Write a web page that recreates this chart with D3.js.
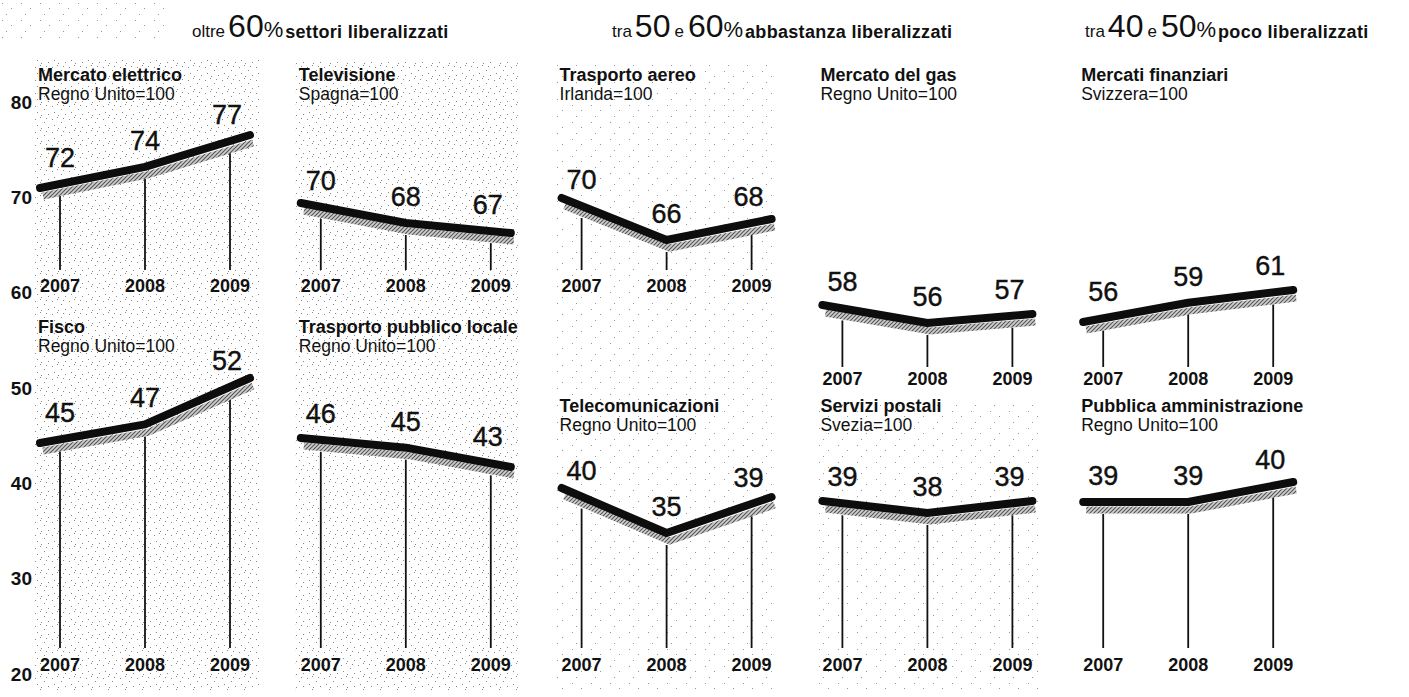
<!DOCTYPE html>
<html>
<head>
<meta charset="utf-8">
<title>Liberalizzazioni</title>
<style>
body { margin: 0; background: #fff; }
text { font-family: "Liberation Sans", Arial, Helvetica, sans-serif; fill: #111; }
.title { font-weight: bold; font-size: 18px; }
.sub { font-size: 17.5px; }
.val { font-size: 27px; stroke: #111; stroke-width: 0.4px; }
.year { font-size: 18px; font-weight: bold; }
.axis text { font-size: 19px; font-weight: bold; font-family: "Liberation Sans", Arial, sans-serif; fill: #111; }
.axis path { display: none; }
</style>
</head>
<body>
<script src="https://d3js.org/d3.v7.min.js"></script>
<script>

// data
var years = [2007, 2008, 2009];
var axisTicks = [20, 30, 40, 50, 60, 70, 80];

var titles = ["Mercato elettrico", "Televisione", "Trasporto aereo", "Mercato del gas", "Mercati finanziari",
              "Fisco", "Trasporto pubblico locale", "Telecomunicazioni", "Servizi postali", "Pubblica amministrazione"];
var bases = ["Regno Unito=100", "Spagna=100", "Irlanda=100", "Regno Unito=100", "Svizzera=100",
             "Regno Unito=100", "Regno Unito=100", "Regno Unito=100", "Svezia=100", "Regno Unito=100"];
var values = [
  [72, 74, 77],
  [70, 68, 67],
  [70, 66, 68],
  [58, 56, 57],
  [56, 59, 61],
  [45, 47, 52],
  [46, 45, 43],
  [40, 35, 39],
  [39, 38, 39],
  [39, 39, 40]
];

var headLead = ["oltre", "tra", "tra"];
var headLow = ["", "50", "40"];
var headHigh = ["60", "60", "50"];
var headTail = ["settori liberalizzati", "abbastanza liberalizzati", "poco liberalizzati"];

// layout
var width = 1409, height = 697;
var panelCol = [0, 1, 2, 3, 4, 0, 1, 2, 3, 4];
var panelRow = ["top", "top", "top", "mid", "mid", "low", "low", "bot", "bot", "bot"];
var rows = {
  top: {title: 81, dropEnd: 270, year: 292},
  mid: {title: 81, dropEnd: 367, year: 385},
  low: {title: 333, dropEnd: 648, year: 671},
  bot: {title: 412, dropEnd: 648, year: 671}
};
// pixel band used by each panel: [y of lowest value, y of highest value]
var bands = [[188, 135], [233, 203], [240, 198], [323, 305], [322, 290],
             [443, 378], [467, 438], [533, 488], [513, 501], [502, 482]];
var headX = [192, 612, 1085];

var svg = d3.select("body").append("svg")
    .attr("width", width)
    .attr("height", height);

var defs = svg.append("defs");

// scanned speckle texture
var speck = defs.append("pattern").attr("id", "speck")
    .attr("patternUnits", "userSpaceOnUse").attr("width", 17).attr("height", 13);
[[1, 2], [6, 0], [10, 5], [3, 8], [14, 10], [12, 1], [7, 11]].forEach(function(p) {
  speck.append("rect").attr("x", p[0]).attr("y", p[1]).attr("width", 1).attr("height", 1).attr("fill", "#888");
});
var speck2 = defs.append("pattern").attr("id", "speck2")
    .attr("patternUnits", "userSpaceOnUse").attr("width", 19).attr("height", 17);
[[2, 3], [11, 8], [6, 14]].forEach(function(p) {
  speck2.append("rect").attr("x", p[0]).attr("y", p[1]).attr("width", 1).attr("height", 1).attr("fill", "#999");
});

// hatched shadow
var hatch = defs.append("pattern").attr("id", "hatch")
    .attr("patternUnits", "userSpaceOnUse").attr("width", 4).attr("height", 4);
hatch.append("rect").attr("width", 4).attr("height", 4).attr("fill", "#cfcfcf");
hatch.append("path").attr("d", "M0,4 L4,0 M-1,1 L1,-1 M3,5 L5,3")
    .attr("stroke", "#555").attr("stroke-width", 1.1);

var colX = function(c) { return 60 + c * 260.8; };

svg.append("rect").attr("x", 0).attr("y", 0).attr("width", 170).attr("height", 42).attr("fill", "url(#speck2)");
svg.append("rect").attr("x", colX(0) - 25).attr("y", 60).attr("width", 225).attr("height", 630).attr("fill", "url(#speck)");
svg.append("rect").attr("x", colX(1) - 25).attr("y", 62).attr("width", 222).attr("height", 628).attr("fill", "url(#speck)");
svg.append("rect").attr("x", colX(2) - 25).attr("y", 62).attr("width", 222).attr("height", 628).attr("fill", "url(#speck2)");
svg.append("rect").attr("x", colX(3) - 25).attr("y", 400).attr("width", 222).attr("height", 290).attr("fill", "url(#speck2)");

// headers
headX.forEach(function(x, i) {
  var t = svg.append("text").attr("x", x).attr("y", 37);
  t.append("tspan").style("font-size", "17px").text(headLead[i]);
  if (headLow[i]) {
    t.append("tspan").attr("dx", 3).style("font-size", "32px").text(headLow[i]);
    t.append("tspan").attr("dx", 4).style("font-size", "17px").text("e");
    t.append("tspan").attr("dx", 4).style("font-size", "32px").text(headHigh[i]);
  } else {
    t.append("tspan").attr("dx", 3).style("font-size", "32px").text(headHigh[i]);
  }
  t.append("tspan").style("font-size", "22px").text("%");
  t.append("tspan").attr("dx", 2).attr("dy", 1).style("font-size", "18px")
      .style("font-weight", "bold").style("letter-spacing", "0.3px").text(headTail[i]);
});

// left axis
var yAxis = d3.scaleLinear().domain([20, 80]).range([673, 101]);
svg.append("g").attr("class", "axis")
    .attr("transform", "translate(32,7)")
    .call(d3.axisLeft(yAxis).tickValues(axisTicks).tickSize(0).tickPadding(0))
    .selectAll("text").attr("dy", 0).attr("text-anchor", "end");

// panels
values.forEach(function(vals, i) {
  var c = panelCol[i], row = rows[panelRow[i]];
  var x0 = colX(c);
  var xLine = d3.scalePoint().domain(years).range([x0 - 20, x0 + 190]);
  var xDrop = d3.scalePoint().domain(years).range([x0, x0 + 170]);
  var y = d3.scaleLinear().domain(d3.extent(vals)).range(bands[i]);
  if (d3.min(vals) === d3.max(vals)) y.domain([vals[0] - 1, vals[0]]);

  var g = svg.append("g");

  g.append("text").attr("class", "title").attr("x", x0 - 22).attr("y", row.title).text(titles[i]);
  g.append("text").attr("class", "sub").attr("x", x0 - 22).attr("y", row.title + 19).text(bases[i]);

  var pts = years.map(function(yr, k) { return [xLine(yr), y(vals[k])]; });
  // line height at each drop line position
  var yAt = years.map(function(yr, k) {
    if (k === 1) return pts[1][1];
    var a = k === 2 ? pts[1] : pts[0], b = k === 2 ? pts[2] : pts[1];
    return a[1] + (b[1] - a[1]) * (xDrop(yr) - a[0]) / (b[0] - a[0]);
  });

  g.selectAll("line.drop").data(years).enter().append("line")
      .attr("class", "drop")
      .attr("x1", function(d) { return xDrop(d); })
      .attr("x2", function(d) { return xDrop(d); })
      .attr("y1", function(d, k) { return yAt[k] + 12; })
      .attr("y2", row.dropEnd)
      .attr("stroke", "#111").attr("stroke-width", 1.8);

  var line = d3.line()
      .x(function(d, k) { return xLine(years[k]); })
      .y(function(d) { return y(d); });

  g.append("path")
      .attr("d", line(vals))
      .attr("transform", "translate(3,8)")
      .attr("fill", "none")
      .attr("stroke", "url(#hatch)")
      .attr("stroke-width", 7);

  g.append("path")
      .attr("d", line(vals))
      .attr("fill", "none")
      .attr("stroke", "#0d0d0d")
      .attr("stroke-width", 8)
      .attr("stroke-linecap", "round")
      .attr("stroke-linejoin", "round");

  g.selectAll("text.val").data(vals).enter().append("text")
      .attr("class", "val")
      .attr("text-anchor", "middle")
      .attr("x", function(d, k) { return xDrop(years[k]) + (k === 2 ? -3 : 0); })
      .attr("y", function(d, k) { return yAt[k] - 17; })
      .text(function(d) { return d; });

  g.selectAll("text.year").data(years).enter().append("text")
      .attr("class", "year")
      .attr("text-anchor", "middle")
      .attr("x", function(d) { return xDrop(d); })
      .attr("y", row.year)
      .text(function(d) { return d; });
});

</script>
</body>
</html>
